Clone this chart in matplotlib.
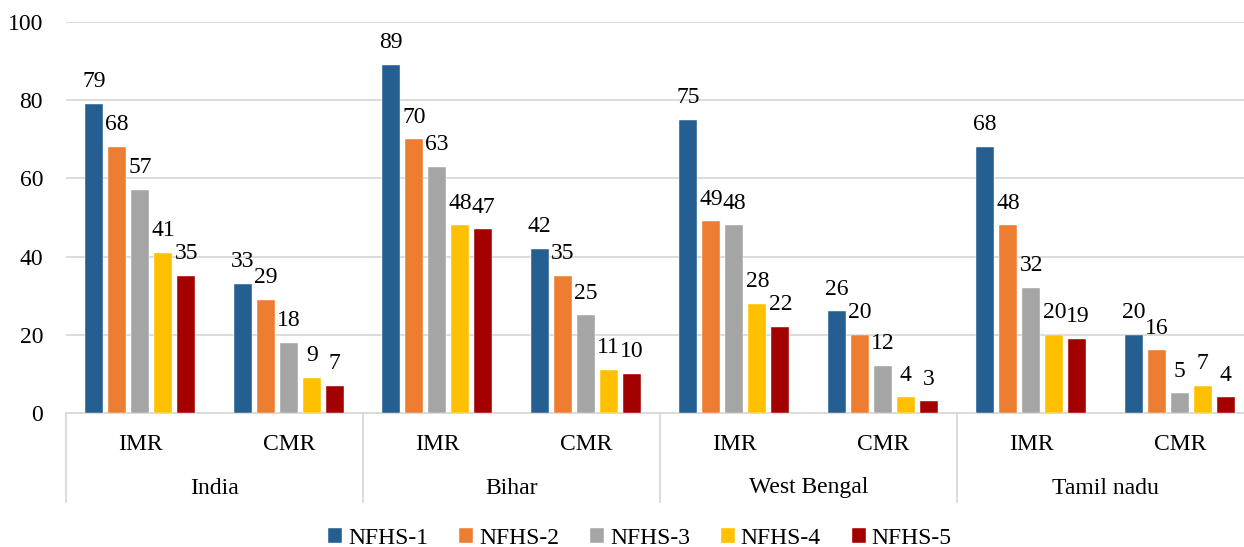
import matplotlib
matplotlib.use("Agg")
import matplotlib.pyplot as plt
import matplotlib.transforms as mtransforms
import numpy as np

regions = ["India", "Bihar", "West Bengal", "Tamil nadu"]
indicators = ["IMR", "CMR"]
rounds = ["NFHS-1", "NFHS-2", "NFHS-3", "NFHS-4", "NFHS-5"]

# values per round, ordered India IMR, India CMR, Bihar IMR, Bihar CMR, ...
nfhs1 = [79, 33, 89, 42, 75, 26, 68, 20]
nfhs2 = [68, 29, 70, 35, 49, 20, 48, 16]
nfhs3 = [57, 18, 63, 25, 48, 12, 32, 5]
nfhs4 = [41, 9, 48, 11, 28, 4, 20, 7]
nfhs5 = [35, 7, 47, 10, 22, 3, 19, 4]
series = [nfhs1, nfhs2, nfhs3, nfhs4, nfhs5]
colors = ["#255E91", "#ED7D31", "#A5A5A5", "#FFC000", "#A30000"]

plt.rcParams["font.family"] = ["Liberation Serif", "DejaVu Serif"]
FS = 17

W, H = 1244, 547
fig = plt.figure(figsize=(W / 100, H / 100), dpi=100)
left, right = 66 / W, 1254 / W
top, bottom = 1 - 22 / H, 1 - 413 / H
ax = fig.add_axes([left, bottom, right - left, top - bottom])

n_cat = len(regions) * len(indicators)
x = np.arange(n_cat) + 0.5
step = 0.155
width = 0.121
for i, (vals, col, name) in enumerate(zip(series, colors, rounds)):
    pos = x + (i - 2) * step
    bars = ax.bar(pos, vals, width=width, color=col, label=name, zorder=3,
                  edgecolor="white", linewidth=0.3)
    for b, v in zip(bars, vals):
        ax.annotate(f"{v}", (b.get_x() + b.get_width() / 2, v),
                    xytext=(0, 16), textcoords="offset points",
                    ha="center", va="center", fontsize=FS, color="#000000")

ax.set_xlim(0, n_cat)
ax.set_ylim(0, 100)
ax.set_yticks(np.arange(0, 101, 20))
ax.tick_params(axis="y", length=0, labelsize=FS, pad=16.5, colors="#000000")
ax.set_xticks([])
ax.grid(axis="y", color="#D9D9D9", linewidth=1.3, zorder=0)
for s in ["left", "right", "top"]:
    ax.spines[s].set_visible(False)
ax.spines["bottom"].set_color("#D9D9D9")
ax.spines["bottom"].set_linewidth(1.3)

# two-level category axis beneath the bars
trans = mtransforms.blended_transform_factory(ax.transData, fig.transFigure)
y_ind = 1 - 445 / H
y_reg = 1 - 488 / H
y_line_bot = 1 - 502 / H
y_line_top = 1 - 413 / H
for k in range(n_cat):
    ax.text(x[k], y_ind, indicators[k % 2], transform=trans,
            ha="center", va="center", fontsize=FS)
for r, name in enumerate(regions):
    ax.text(2 * r + 1, y_reg, name, transform=trans,
            ha="center", va="center", fontsize=FS)
for r in range(len(regions) + 1):
    ax.plot([2 * r, 2 * r], [y_line_bot, y_line_top], transform=trans,
            color="#D9D9D9", linewidth=1.3, clip_on=False)

fig.legend(loc="center", bbox_to_anchor=(640 / W, 1 - 538 / H), ncol=5,
           frameon=False, fontsize=FS, handlelength=0.6, handleheight=0.6,
           handletextpad=0.25, columnspacing=1.3)

fig.savefig("out.png", dpi=100)
